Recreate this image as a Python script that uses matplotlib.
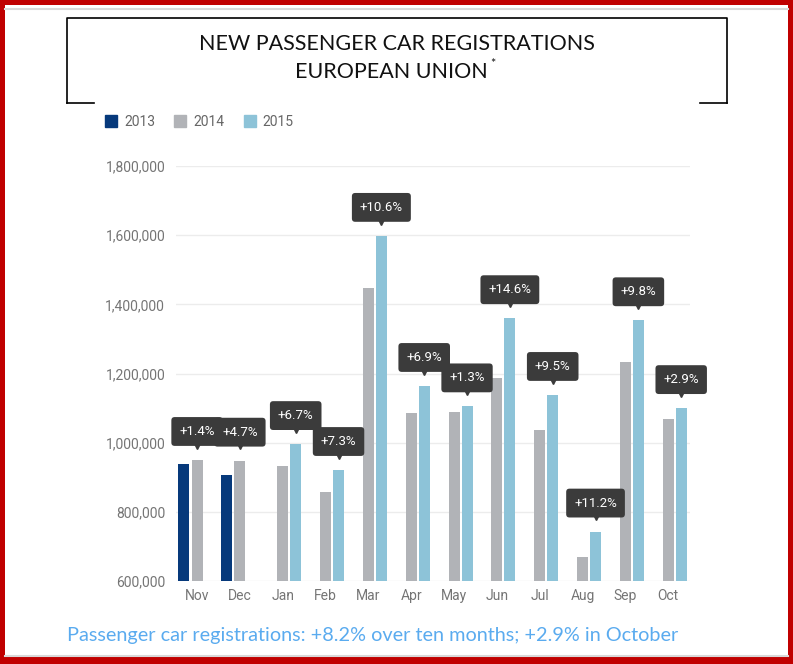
import matplotlib
matplotlib.use("Agg")
import matplotlib.pyplot as plt
import numpy as np
from matplotlib.lines import Line2D
from matplotlib.patches import Rectangle
from matplotlib.transforms import offset_copy

months = ["Nov", "Dec", "Jan", "Feb", "Mar", "Apr", "May", "Jun", "Jul", "Aug", "Sep", "Oct"]
years = ["2013", "2014", "2015"]
# values; Nov/Dec compare 2013 vs 2014, the rest 2014 vs 2015
reg_2013 = [938000, 906000, np.nan, np.nan, np.nan, np.nan, np.nan, np.nan, np.nan, np.nan, np.nan, np.nan]
reg_2014 = [950000, 948000, 932000, 858000, 1446000, 1087000, 1090000, 1188000, 1036000, 668000, 1233000, 1069000]
reg_2015 = [np.nan, np.nan, 996000, 921000, 1598000, 1164000, 1105000, 1360000, 1138000, 743000, 1354000, 1100000]
changes = ["+1.4%", "+4.7%", "+6.7%", "+7.3%", "+10.6%", "+6.9%", "+1.3%",
           "+14.6%", "+9.5%", "+11.2%", "+9.8%", "+2.9%"]
colors = ["#06397b", "#b1b3b7", "#8dc3d8"]

W, H = 793, 664
fig = plt.figure(figsize=(W / 100, H / 100), dpi=100)


def px(x, y):
    return x / W, 1 - y / H


# red frame around the picture
for r in [(0, 0, 4.5, H), (788, 0, 5, H), (0, 0, W, 4.5), (0, 657, W, 7)]:
    x0, y0 = px(r[0], r[1] + r[3])
    fig.add_artist(Rectangle((x0, y0), r[2] / W, r[3] / H, transform=fig.transFigure,
                             facecolor="#c00000", edgecolor="none"))
for yy in (9, 655.5):
    fig.add_artist(Line2D([px(4.5, 0)[0], px(788, 0)[0]], [px(0, yy)[1]] * 2,
                          transform=fig.transFigure, color="#d9d9d9", lw=1.5))

# title box
box = [[(67, 103), (67, 18), (726.5, 18), (726.5, 103)], [(67, 102.5), (94, 102.5)],
       [(700, 102.5), (726.5, 102.5)]]
for seg in box:
    xs = [px(*p)[0] for p in seg]
    ys = [px(*p)[1] for p in seg]
    fig.add_artist(Line2D(xs, ys, transform=fig.transFigure, color="black", lw=1.2))
fig.text(*px(397, 44), "NEW PASSENGER CAR REGISTRATIONS", ha="center", va="center",
         fontsize=15.5, family="Lato", color="#111111")
fig.text(*px(391, 72), "EUROPEAN UNION", ha="center", va="center",
         fontsize=15.5, family="Lato", color="#111111")
fig.text(*px(490, 64), "*", ha="left", va="center", fontsize=9, family="Lato", color="#111111")

ax = fig.add_axes([175.6 / W, 83 / H, 514 / W, 415 / H])
x = np.arange(len(months))
slot = 0.304
bw = 0.257
series = [reg_2013, reg_2014, reg_2015]
for i, vals in enumerate(series):
    ax.bar(x + (i - 1) * slot, vals, width=bw, color=colors[i], zorder=3, label=years[i])

# dark value tags above the newer bar of each pair
tri = offset_copy(ax.transData, fig=fig, x=0, y=11.0, units="points")
for i, lab in enumerate(changes):
    if np.isnan(reg_2015[i]):
        xi, top = x[i], reg_2014[i]
    else:
        xi, top = x[i] + slot, reg_2015[i]
    ax.annotate(lab, (xi, top), xytext=(0, 20.5), textcoords="offset points",
                ha="center", va="center", fontsize=9.5, family="Roboto", color="white",
                zorder=6, annotation_clip=False,
                bbox=dict(boxstyle="round,pad=0.6,rounding_size=0.25",
                          facecolor="#3b3b3b", edgecolor="none"))
    ax.plot([xi], [top], marker="v", markersize=6, color="#3b3b3b", transform=tri,
            zorder=5, clip_on=False)

ax.set_xlim(-0.5, len(months) - 0.5)
ax.set_ylim(600000, 1800000)
ax.set_yticks(np.arange(600000, 1800001, 200000))
ax.yaxis.set_major_formatter(matplotlib.ticker.FuncFormatter(lambda v, p: f"{int(v):,}"))
ax.set_xticks(x)
ax.set_xticklabels(months)
for s in ax.spines.values():
    s.set_visible(False)
ax.tick_params(length=0, labelcolor="#757575", labelsize=10)
ax.tick_params(axis="y", pad=7.5)
ax.tick_params(axis="x", pad=6)
for t in ax.get_xticklabels() + ax.get_yticklabels():
    t.set_family("Roboto")
ax.yaxis.grid(True, color="#ececec", lw=1, zorder=0)

handles = [Line2D([], [], marker="s", ls="none", markersize=9, color=c) for c in colors]
leg = fig.legend(handles, years, loc="center left", bbox_to_anchor=px(93, 122), ncol=3,
                 frameon=False, handlelength=0.8, handletextpad=0.55, columnspacing=1.4,
                 prop={"family": "Roboto", "size": 10})
for t in leg.get_texts():
    t.set_color("#666666")

fig.text(*px(67, 636), "Passenger car registrations: +8.2% over ten months; +2.9% in October",
         ha="left", va="center", fontsize=14.3, family="Lato", color="#5aabef")

fig.savefig("out.png", dpi=100)
